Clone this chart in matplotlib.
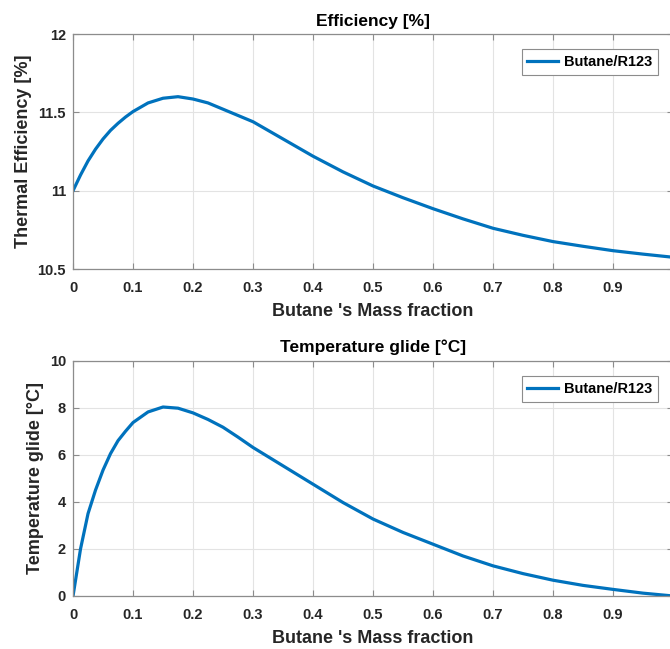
import numpy as np
import matplotlib
matplotlib.use("Agg")
import matplotlib.pyplot as plt

# values
mass_frac = [0, 0.0125, 0.025, 0.0375, 0.05, 0.0625, 0.075, 0.0875, 0.1, 0.125, 0.15, 0.175,
             0.2, 0.225, 0.25, 0.275, 0.3, 0.325, 0.35, 0.375, 0.4, 0.45, 0.5, 0.55, 0.6,
             0.65, 0.7, 0.75, 0.8, 0.85, 0.9, 0.95, 1.0]
efficiency = [11.0, 11.10, 11.19, 11.265, 11.33, 11.385, 11.43, 11.47, 11.505, 11.56, 11.59, 11.60,
              11.585, 11.56, 11.52, 11.48, 11.44, 11.385, 11.33, 11.275, 11.22, 11.12, 11.03,
              10.955, 10.885, 10.82, 10.76, 10.715, 10.675, 10.645, 10.617, 10.595, 10.575]
glide = [0, 2.0, 3.5, 4.5, 5.35, 6.05, 6.6, 7.0, 7.37, 7.82, 8.03, 7.98,
         7.78, 7.5, 7.17, 6.75, 6.31, 5.92, 5.53, 5.14, 4.75, 3.97, 3.27, 2.7, 2.2,
         1.7, 1.28, 0.95, 0.67, 0.45, 0.28, 0.12, 0.0]

x_ticks = np.round(np.arange(0, 1.01, 0.1), 1)
x_ticklabels = ["0"] + ["%.1f" % v for v in x_ticks[1:-1]] + ["1"]
eff_ticks = [10.5, 11, 11.5, 12]
eff_ticklabels = ["10.5", "11", "11.5", "12"]
glide_ticks = [0, 2, 4, 6, 8, 10]
legend_label = "Butane/R123"

plt.rcParams['font.family'] = ['Liberation Sans', 'DejaVu Sans']
plt.rcParams['font.weight'] = 'bold'

fig = plt.figure(figsize=(6.7, 6.49), dpi=100)
ax1 = fig.add_axes([0.109, 0.5855, 0.8955, 0.3621])
ax2 = fig.add_axes([0.109, 0.0817, 0.8955, 0.3626])

blue = '#0072BD'
txt = '#262626'


def style(ax, yticks, yticklabels):
    ax.set_xlim(0, 1)
    ax.set_xticks(x_ticks)
    ax.set_xticklabels(x_ticklabels)
    ax.set_yticks(yticks)
    ax.set_yticklabels(yticklabels)
    ax.set_ylim(yticks[0], yticks[-1])
    ax.grid(True, color='#e3e3e3', linewidth=0.8)
    ax.set_axisbelow(True)
    for s in ax.spines.values():
        s.set_color('#8c8c8c')
        s.set_linewidth(0.9)
    ax.tick_params(direction='in', top=True, right=True, length=4, width=0.8,
                   color='#8c8c8c', labelsize=10.5, labelcolor=txt)
    ax.tick_params(axis='x', pad=8.5)
    ax.tick_params(axis='y', pad=5)
    for lab in ax.get_xticklabels() + ax.get_yticklabels():
        lab.set_fontweight('bold')


def add_legend(ax):
    leg = ax.legend(loc='upper right', bbox_to_anchor=(0.975, 0.935), fontsize=10.5, fancybox=False,
                    edgecolor='#8c8c8c', handlelength=2.1, handletextpad=0.4,
                    borderaxespad=0, framealpha=1)
    leg.get_frame().set_linewidth(0.8)


ax1.plot(mass_frac, efficiency, color=blue, linewidth=2.3, label=legend_label,
         solid_joinstyle='round')
style(ax1, eff_ticks, eff_ticklabels)
ax1.set_title("Efficiency [%]", fontsize=12.5, fontweight='bold', color='black', pad=6)
ax1.set_xlabel("Butane 's Mass fraction", fontsize=13, fontweight='bold', color=txt, labelpad=6)
ax1.set_ylabel("Thermal Efficiency [%]", fontsize=13, fontweight='bold', color=txt, labelpad=4)
add_legend(ax1)

ax2.plot(mass_frac, glide, color=blue, linewidth=2.3, label=legend_label,
         solid_joinstyle='round')
style(ax2, glide_ticks, [str(v) for v in glide_ticks])
ax2.set_title("Temperature glide [°C]", fontsize=12.5, fontweight='bold', color='black', pad=6)
ax2.set_xlabel("Butane 's Mass fraction", fontsize=13, fontweight='bold', color=txt, labelpad=6)
ax2.set_ylabel("Temperature glide [°C]", fontsize=13, fontweight='bold', color=txt, labelpad=4)
add_legend(ax2)

fig.savefig("out.png", dpi=100)
